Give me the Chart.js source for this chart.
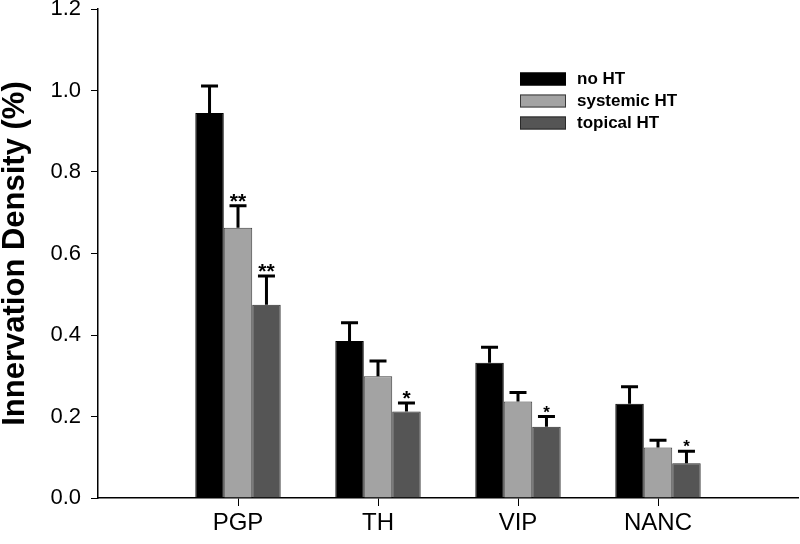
<!DOCTYPE html>
<html>
<head>
<meta charset="utf-8">
<script src="https://cdn.jsdelivr.net/npm/chart.js@4.4.0/dist/chart.umd.min.js"></script>
<style>
  body { margin: 0; background: #fff; }
  #wrap { width: 800px; height: 544px; }
</style>
</head>
<body>
<div id="wrap"><canvas id="chart" width="800" height="544"></canvas></div>
<script>
// values
const categories = ['PGP', 'TH', 'VIP', 'NANC'];
const seriesNames = ['no HT', 'systemic HT', 'topical HT'];
const noHT = [0.945, 0.385, 0.332, 0.231];
const noHTErr = [0.066, 0.045, 0.038, 0.042];
const systemicHT = [0.663, 0.299, 0.237, 0.124];
const systemicErr = [0.054, 0.037, 0.022, 0.018];
const topicalHT = [0.474, 0.212, 0.175, 0.085];
const topicalErr = [0.071, 0.021, 0.025, 0.030];
const noHTStars = ['', '', '', ''];
const systemicStars = ['**', '', '', ''];
const topicalStars = ['**', '*', '*', '*'];
const yTicks = [0, 0.2, 0.4, 0.6, 0.8, 1.0, 1.2];

// empty slot on each side so the groups sit at 1..4 of a 0..5 axis
const axisLabels = [''].concat(categories, ['']);
const pad = arr => [null].concat(arr, [null]);

const colors = ['#000000', '#a3a3a3', '#555555'];
const borders = ['#000000', '#3a3a3a', '#2a2a2a'];
const errs = [noHTErr, systemicErr, topicalErr];
const stars = [noHTStars, systemicStars, topicalStars];
const values = [noHT, systemicHT, topicalHT];
const FONT = '"Liberation Sans", Arial, sans-serif';

const errorBars = {
  id: 'errorBars',
  afterDatasetsDraw(chart) {
    const ctx = chart.ctx;
    const y = chart.scales.y;
    ctx.save();
    ctx.strokeStyle = '#000';
    ctx.fillStyle = '#000';
    ctx.lineWidth = 3;
    chart.data.datasets.forEach((ds, i) => {
      const meta = chart.getDatasetMeta(i);
      meta.data.forEach((bar, j) => {
        if (ds.data[j] == null) return;
        const k = j - 1;
        const top = y.getPixelForValue(ds.data[j] + errs[i][k]);
        ctx.beginPath();
        ctx.moveTo(bar.x, bar.y);
        ctx.lineTo(bar.x, top);
        ctx.moveTo(bar.x - 8.5, top);
        ctx.lineTo(bar.x + 8.5, top);
        ctx.stroke();
        if (stars[i][k]) {
          // the VIP / NANC stars are a touch smaller in the figure
          ctx.font = 'bold ' + (k >= 2 ? 17 : 21) + 'px ' + FONT;
          ctx.textAlign = 'center';
          ctx.textBaseline = 'alphabetic';
          ctx.fillText(stars[i][k], bar.x, top + (k >= 2 ? 1 : 2));
        }
      });
    });
    ctx.restore();
  }
};

// legend box in the upper right of the plot
const boxLegend = {
  id: 'boxLegend',
  afterDraw(chart) {
    const ctx = chart.ctx;
    ctx.save();
    seriesNames.forEach((name, i) => {
      const cy = 79 + i * 22;
      ctx.fillStyle = colors[i];
      ctx.fillRect(520, cy - 6.5, 46, 13);
      ctx.strokeStyle = borders[i];
      ctx.lineWidth = 1;
      ctx.strokeRect(520.5, cy - 6, 45, 12);
      ctx.fillStyle = '#000';
      ctx.font = 'bold 17px ' + FONT;
      ctx.textAlign = 'left';
      ctx.textBaseline = 'middle';
      ctx.fillText(name, 577, cy);
    });
    ctx.restore();
  }
};

new Chart(document.getElementById('chart'), {
  type: 'bar',
  data: {
    labels: axisLabels,
    datasets: values.map((v, i) => ({
      label: seriesNames[i],
      data: pad(v),
      backgroundColor: colors[i],
      borderColor: borders[i],
      borderWidth: 1,
      categoryPercentage: 0.61,
      barPercentage: 1
    }))
  },
  options: {
    responsive: false,
    animation: false,
    layout: { padding: { top: 9, right: 2, left: 0, bottom: 0 } },
    plugins: { legend: { display: false }, tooltip: { enabled: false } },
    scales: {
      x: {
        offset: false,
        grid: {
          offset: false,
          drawOnChartArea: false,
          tickLength: 8,
          tickColor: c => (c.index === 0 || c.index === axisLabels.length - 1) ? 'rgba(0,0,0,0)' : '#000',
          tickWidth: 1
        },
        border: { color: '#000', width: 1.5 },
        ticks: {
          autoSkip: false,
          maxRotation: 0,
          padding: 3,
          color: '#000',
          font: { family: FONT, size: 24 }
        },
        afterFit(s) { s.height = 46; s.paddingLeft = 0; s.paddingRight = 0; }
      },
      y: {
        min: 0,
        max: 1.2,
        afterBuildTicks(s) { s.ticks = yTicks.map(v => ({ value: v })); },
        grid: { drawOnChartArea: false, tickLength: 7, tickColor: '#000', tickWidth: 1 },
        border: { color: '#000', width: 1.5 },
        ticks: {
          padding: 10,
          color: '#000',
          callback: v => Number(v).toFixed(1),
          font: { family: FONT, size: 22 }
        },
        title: {
          display: true,
          text: 'Innervation Density (%)',
          color: '#000',
          padding: 0,
          font: { family: FONT, size: 31, weight: 'bold', lineHeight: 1 }
        },
        afterFit(s) { s.width = 98; s.paddingTop = 0; s.paddingBottom = 0; }
      }
    }
  },
  plugins: [errorBars, boxLegend]
});
</script>
</body>
</html>
